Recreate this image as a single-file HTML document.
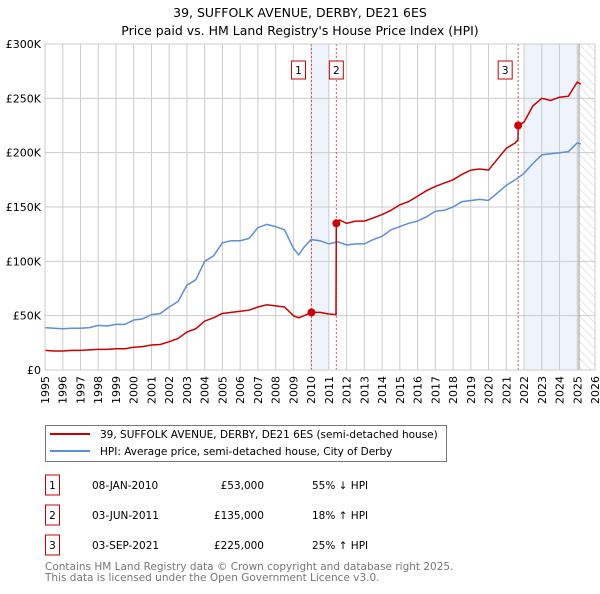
<!DOCTYPE html>
<html><head><meta charset="utf-8"><style>
body{margin:0;background:#fff;font-family:"DejaVu Sans","Liberation Sans",sans-serif;}
svg text{font-family:"DejaVu Sans","Liberation Sans",sans-serif;}
</style></head><body>
<svg id="chart" width="600" height="590" xmlns="http://www.w3.org/2000/svg">
<defs><pattern id="hatch" width="6" height="6" patternUnits="userSpaceOnUse" patternTransform="rotate(-45)"><line x1="0" y1="0" x2="0" y2="6" stroke="#ccc" stroke-width="1"/></pattern></defs>
<text x="300" y="17" text-anchor="middle" font-size="12.5">39, SUFFOLK AVENUE, DERBY, DE21 6ES</text>
<text x="300" y="35" text-anchor="middle" font-size="12.5">Price paid vs. HM Land Registry's House Price Index (HPI)</text>
<g id="plot"></g>
<g>
<rect x="45.5" y="425.5" width="401" height="36" fill="#fff" stroke="#777"/>
<line x1="50" y1="434" x2="90" y2="434" stroke="#cc0000" stroke-width="2"/>
<text x="100" y="438" font-size="10.5">39, SUFFOLK AVENUE, DERBY, DE21 6ES (semi-detached house)</text>
<line x1="50" y1="451" x2="90" y2="451" stroke="#5b8fd6" stroke-width="2"/>
<text x="100" y="455" font-size="10.5">HPI: Average price, semi-detached house, City of Derby</text>
</g>
<g id="table" font-size="10.5"></g>
<text x="45" y="570" font-size="10.5" fill="#777">Contains HM Land Registry data © Crown copyright and database right 2025.</text>
<text x="45" y="581" font-size="10.5" fill="#777">This data is licensed under the Open Government Licence v3.0.</text>
</svg>
<script>
const hpiDates=[1995,1995.5,1996,1996.5,1997,1997.5,1998,1998.5,1999,1999.5,2000,2000.5,2001,2001.5,2002,2002.5,2003,2003.5,2004,2004.5,2005,2005.5,2006,2006.5,2007,2007.5,2008,2008.5,2009,2009.3,2009.6,2010,2010.5,2011,2011.5,2012,2012.5,2013,2013.5,2014,2014.5,2015,2015.5,2016,2016.5,2017,2017.5,2018,2018.5,2019,2019.5,2020,2020.5,2021,2021.5,2022,2022.5,2023,2023.5,2024,2024.5,2025,2025.2];
const hpiValues=[39,38.5,38,38.5,38.5,39,41,40.5,42,42,46,47,51,52,58,63,78,83,100,105,117,119,119,121,131,134,132,129,112,106,113,120,119,116,118,115,116,116,120,123,129,132,135,137,141,146,147,150,155,156,157,156,163,170,175,181,190,198,199,200,201,209,208];
const redDates=[1995,1995.5,1996,1996.5,1997,1997.5,1998,1998.5,1999,1999.5,2000,2000.5,2001,2001.5,2002,2002.5,2003,2003.5,2004,2004.5,2005,2005.5,2006,2006.5,2007,2007.5,2008,2008.5,2009,2009.3,2009.6,2010.02,2010.5,2011,2011.4,2011.42,2011.6,2012,2012.5,2013,2013.5,2014,2014.5,2015,2015.5,2016,2016.5,2017,2017.5,2018,2018.5,2019,2019.5,2020,2020.5,2021,2021.5,2021.66,2021.67,2022,2022.5,2023,2023.5,2024,2024.5,2025,2025.2];
const redValues=[18,17.5,17.5,18,18,18.5,19,19,19.5,19.5,21,21.5,23,23.5,26,29,35,38,45,48,52,53,54,55,58,60,59,58,50,48,50,53,53,51.5,51,135,138,135,137,137,140,143,147,152,155,160,165,169,172,175,180,184,185,184,194,204,209,212,225,228,243,250,248,251,252,265,263];
const salesDates=[2010.02,2011.42,2021.67];
const salesValues=[53,135,225];
const salesLabels=["1","2","3"];
const salesDateText=["08-JAN-2010","03-JUN-2011","03-SEP-2021"];
const salesPriceText=["£53,000","£135,000","£225,000"];
const salesHpiText=["55% ↓ HPI","18% ↑ HPI","25% ↑ HPI"];
const yTicks=[0,50,100,150,200,250,300];
const yTickLabels=["£0","£50K","£100K","£150K","£200K","£250K","£300K"];
const xYears=[1995,1996,1997,1998,1999,2000,2001,2002,2003,2004,2005,2006,2007,2008,2009,2010,2011,2012,2013,2014,2015,2016,2017,2018,2019,2020,2021,2022,2023,2024,2025,2026];
const L=45,R=595,T=44,B=370,X0=1995,X1=2026,Ymax=300;
const xs=d=>L+(d-X0)/(X1-X0)*(R-L);
const ys=v=>B-v/Ymax*(B-T);
const NS="http://www.w3.org/2000/svg";
const plot=document.getElementById('plot');
function mk(tag,attrs,parent){const e=document.createElementNS(NS,tag);for(const k in attrs)e.setAttribute(k,attrs[k]);(parent||plot).appendChild(e);return e;}
let s1=mk('rect',{x:xs(2010.02),y:T,width:xs(2011)-xs(2010.02),height:B-T,fill:'#eef3fc'});


let s2=mk('rect',{x:xs(2022),y:T,width:xs(2025.1)-xs(2022),height:B-T,fill:'#eef3fc'});


let hz=mk('rect',{x:xs(2025.1),y:T,width:R-xs(2025.1),height:B-T,fill:'url(#hatch)'});


xYears.forEach(y=>{let g=mk('line',{x1:xs(y),x2:xs(y),y1:T,y2:B,stroke:'#ccc','stroke-width':1});


let t=mk('text',{x:0,y:0,transform:`translate(${xs(y)+4},${B+6}) rotate(-90)`,'text-anchor':'end','font-size':'11'});t.textContent=y;

});
yTicks.forEach((v,i)=>{let g=mk('line',{x1:L,x2:R,y1:ys(v),y2:ys(v),stroke:'#ccc','stroke-width':1});


let t=mk('text',{x:L-4,y:ys(v)+4,'text-anchor':'end','font-size':'11'});t.textContent=yTickLabels[i];

});
let dl=mk('line',{x1:xs(2025.1),x2:xs(2025.1),y1:T,y2:B,stroke:'#999','stroke-width':1});


salesDates.forEach((d,i)=>{let l=mk('line',{x1:xs(d),x2:xs(d),y1:T,y2:B,stroke:'#e05050','stroke-width':1,'stroke-dasharray':'2,2'});


let r=mk('rect',{x:xs(d)-20,y:T+17,width:14,height:18,fill:'#fff',stroke:'#cc0000'});
if(i==1)r.setAttribute('x',xs(d)-7);


let t=mk('text',{x:(+r.getAttribute('x'))+7,y:T+30,'text-anchor':'middle','font-size':'10.5'});t.textContent=salesLabels[i];

});
function path(ds,vs){return ds.map((d,i)=>(i?'L':'M')+xs(d).toFixed(1)+','+ys(vs[i]).toFixed(1)).join('');}
let hp=mk('path',{d:path(hpiDates,hpiValues),fill:'none',stroke:'#5b8fd6','stroke-width':1.5});


let rp=mk('path',{d:path(redDates,redValues),fill:'none',stroke:'#cc0000','stroke-width':1.5});


salesDates.forEach((d,i)=>{let c=mk('circle',{cx:xs(d),cy:ys(salesValues[i]),r:4,fill:'#cc0000'});

});
const tb=document.getElementById('table');
salesLabels.forEach((lab,i)=>{const cy=485+i*30;
let r=mk('rect',{x:45.5,y:cy-10,width:14,height:20,fill:'#fff',stroke:'#cc0000'},tb);


let t0=mk('text',{x:52.5,y:cy+4,'text-anchor':'middle'},tb);t0.textContent=lab;


let t1=mk('text',{x:92,y:cy+4},tb);t1.textContent=salesDateText[i];


let t2=mk('text',{x:264,y:cy+4,'text-anchor':'end'},tb);t2.textContent=salesPriceText[i];


let t3=mk('text',{x:312,y:cy+4},tb);t3.textContent=salesHpiText[i];

});
let fr=mk('rect',{x:L,y:T,width:R-L,height:B-T,fill:'none',stroke:'#ccc'});


</script>
</body></html>
